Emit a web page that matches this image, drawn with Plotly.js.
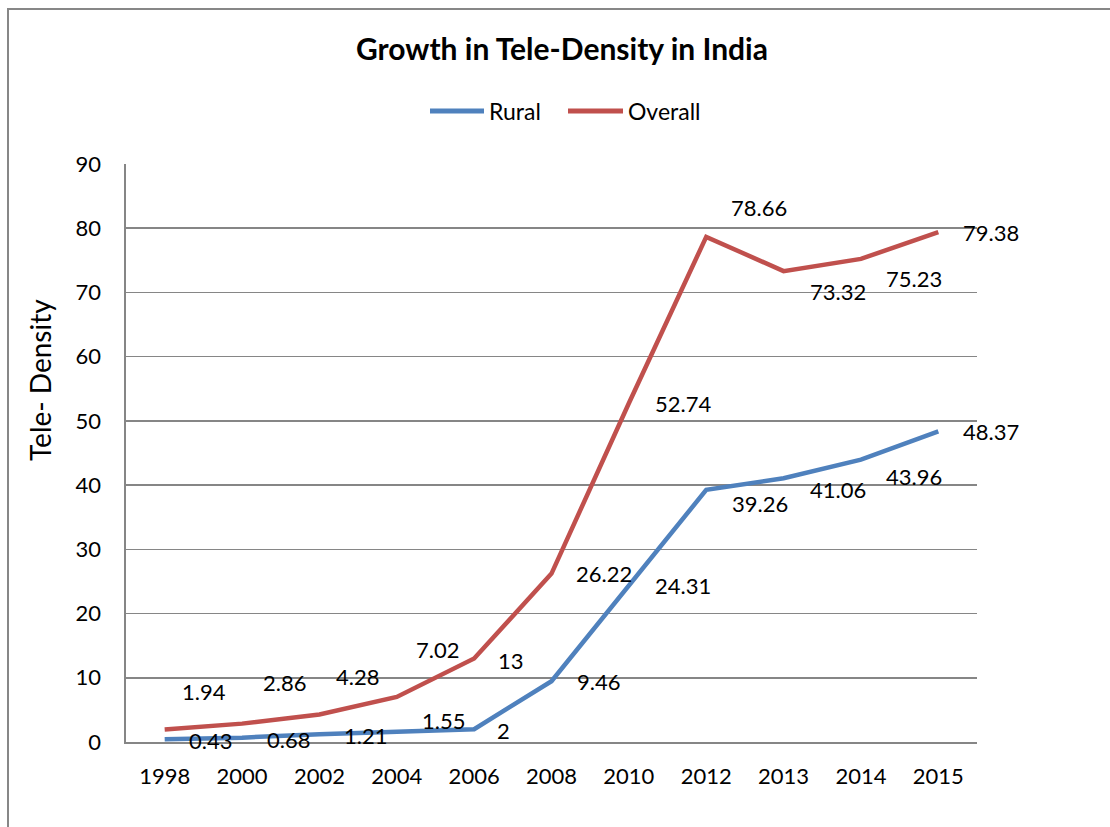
<!DOCTYPE html>
<html>
<head>
<meta charset="utf-8">
<script src="https://cdn.plot.ly/plotly-3.0.1.min.js"></script>
<style>
  html, body { margin: 0; padding: 0; background: #fff; overflow: hidden; }
  #wrap { position: relative; width: 1110px; height: 827px; }
  #chart { width: 1110px; height: 827px; }
  #frame { position: absolute; left: 7px; top: 8px; width: 1200px; height: 900px;
           border-left: 2.5px solid #878787; border-top: 2.5px solid #878787; pointer-events: none; }
</style>
</head>
<body>
<div id="wrap"><div id="chart"></div><div id="frame"></div></div>
<script>
// ---- data ----
const years   = ["1998","2000","2002","2004","2006","2008","2010","2012","2013","2014","2015"];
const rural   = [0.43, 0.68, 1.21, 1.55, 2, 9.46, 24.31, 39.26, 41.06, 43.96, 48.37];
const overall = [1.94, 2.86, 4.28, 7.02, 13, 26.22, 52.74, 78.66, 73.32, 75.23, 79.38];
const yTicks  = [0, 10, 20, 30, 40, 50, 60, 70, 80, 90];
const seriesNames = ["Rural", "Overall"];

// ---- label placement (pixel offsets from each point; dy positive = up) ----
const ruralDx   = [46, 46, 46, 47, 29, 47, 54, 54, 54, 53, 53];
const ruralDy   = [-1, -2, -1, 12, -1, 0, 0, -14, -11, -17, 0];
const overallDx = [39, 42, 38, 41, 37, 52, 54, 53, 54, 53, 53];
const overallDy = [38, 41, 38, 47, -2, 0, 0, 29, -20, -20, 0];

const FONT = "Lato, 'Open Sans', sans-serif";
const BLUE = "#4F81BD", RED = "#C0504D", GRID = "#868686";
const M = { l: 126, r: 133, t: 164, b: 85 };
const W = 1110, H = 827;
const PW = W - M.l - M.r, PH = H - M.t - M.b;
const px2x = px => (px - M.l) / PW;
const px2y = py => (H - M.b - py) / PH;

const traces = [
  { x: years, y: rural, name: seriesNames[0], type: "scatter", mode: "lines",
    line: { color: BLUE, width: 4.5 } },
  { x: years, y: overall, name: seriesNames[1], type: "scatter", mode: "lines",
    line: { color: RED, width: 4.5 } }
];

const annotations = [];
function addLabels(vals, dx, dy) {
  vals.forEach((v, i) => {
    annotations.push({ x: i, y: v, xref: "x", yref: "y", text: String(v),
      showarrow: false, xshift: dx[i], yshift: dy[i],
      font: { family: FONT, size: 22, color: "#000" }, xanchor: "center", yanchor: "middle" });
  });
}
addLabels(rural, ruralDx, ruralDy);
addLabels(overall, overallDx, overallDy);

// y-axis title
annotations.push({ text: "Tele- Density", xref: "paper", yref: "paper", x: px2x(40), y: px2y(380),
  textangle: -90, showarrow: false, xanchor: "center", yanchor: "middle",
  font: { family: FONT, size: 28, color: "#000" } });

// custom legend (line swatch + text)
const shapes = [];
const legendItems = [
  { name: seriesNames[0], color: BLUE, x0: 430, x1: 484, tx: 487 },
  { name: seriesNames[1], color: RED,  x0: 568, x1: 623, tx: 626 }
];
legendItems.forEach(it => {
  shapes.push({ type: "line", xref: "paper", yref: "paper",
    x0: px2x(it.x0), x1: px2x(it.x1), y0: px2y(111), y1: px2y(111),
    line: { color: it.color, width: 5 } });
  annotations.push({ text: it.name, xref: "paper", yref: "paper", x: px2x(it.tx), y: px2y(111),
    xanchor: "left", yanchor: "middle", showarrow: false,
    font: { family: FONT, size: 23, color: "#000" } });
});

const layout = {
  width: W, height: H,
  paper_bgcolor: "#fff", plot_bgcolor: "#fff",
  margin: M,
  title: { text: "<b>Growth in Tele-Density in India</b>", xref: "container", yref: "container",
    x: 562 / W, y: 1 - 49 / H, xanchor: "center", yanchor: "middle",
    font: { family: FONT, size: 30, color: "#000" } },
  showlegend: false,
  xaxis: { type: "category", range: [-0.5, 10.5], showgrid: false, zeroline: false,
    showline: true, linecolor: GRID, linewidth: 1.6,
    ticks: "outside", ticklen: 14, tickcolor: "rgba(0,0,0,0)",
    tickfont: { family: FONT, size: 22, color: "#000" }, fixedrange: true },
  yaxis: { range: [0, 90], tickvals: yTicks, ticktext: yTicks.map(String),
    showgrid: true, gridcolor: GRID, gridwidth: 1.6, zeroline: false,
    showline: true, linecolor: GRID, linewidth: 1.6,
    ticks: "outside", ticklen: 19, tickcolor: "rgba(0,0,0,0)",
    tickfont: { family: FONT, size: 22, color: "#000" }, fixedrange: true },
  shapes: shapes,
  annotations: annotations
};

Plotly.newPlot("chart", traces, layout, { displayModeBar: false, staticPlot: true });
</script>
</body>
</html>
